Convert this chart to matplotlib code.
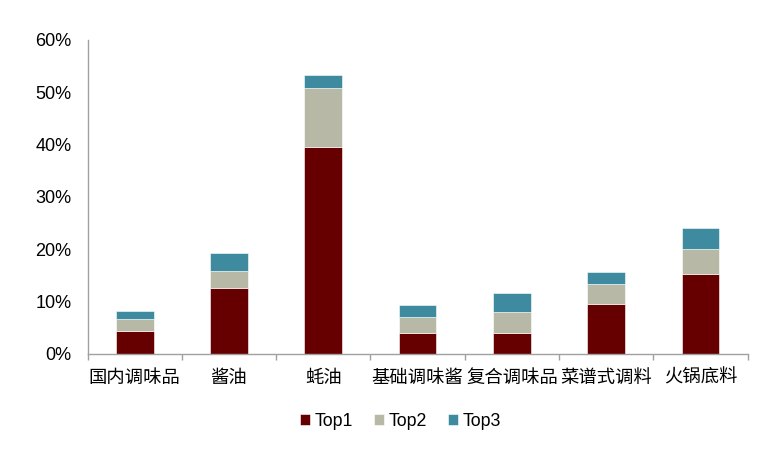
import matplotlib.pyplot as plt
import numpy as np
from matplotlib.ticker import FixedLocator, PercentFormatter

plt.rcParams['font.family'] = ['Liberation Sans', 'Noto Sans CJK SC', 'DejaVu Sans']

categories = ['国内调味品', '酱油', '蚝油', '基础调味酱', '复合调味品', '菜谱式调料', '火锅底料']
top1 = [4.4, 12.6, 39.5, 4.1, 4.1, 9.6, 15.2]
top2 = [2.2, 3.3, 11.4, 3.0, 3.9, 3.8, 4.8]
top3 = [1.6, 3.4, 2.4, 2.3, 3.6, 2.3, 4.1]
series_names = ['Top1', 'Top2', 'Top3']
colors = ['#660000', '#B8B8A6', '#3E8A9E']

fig = plt.figure(figsize=(7.63, 4.57), dpi=100)
ax = fig.add_axes([0.1147, 0.2254, 0.8653, 0.6871])

x = np.arange(len(categories))
bottom = np.zeros(len(categories))
for vals, name, col in zip([top1, top2, top3], series_names, colors):
    ax.bar(x, vals, width=0.4, bottom=bottom, color=col, label=name,
           edgecolor='white', linewidth=0.4)
    bottom += np.array(vals)

ax.set_xlim(-0.5, len(categories) - 0.5)
ax.set_ylim(0, 60)
ax.set_yticks(np.arange(0, 61, 10))
ax.yaxis.set_major_formatter(PercentFormatter(decimals=0))
ax.tick_params(axis='y', length=0, pad=11.5, labelsize=13)

ax.set_xticks(x)
ax.set_xticklabels(categories, fontfamily=['Noto Sans CJK SC'])
ax.tick_params(axis='x', which='major', length=0, pad=10.5, labelsize=13.2)
ax.xaxis.set_minor_locator(FixedLocator(np.arange(-0.5, len(categories), 1.0)))
ax.tick_params(axis='x', which='minor', length=4.5, color='#A0A0A0', width=1)

for s in ['top', 'right']:
    ax.spines[s].set_visible(False)
for s in ['left', 'bottom']:
    ax.spines[s].set_color('#A0A0A0')
    ax.spines[s].set_linewidth(1)

fig.legend(loc='center', bbox_to_anchor=(0.525, 0.078), ncol=3, frameon=False,
           fontsize=12.8, handlelength=0.55, handleheight=0.55, handletextpad=0.3,
           columnspacing=1.15)

fig.savefig('out.png', dpi=100)
